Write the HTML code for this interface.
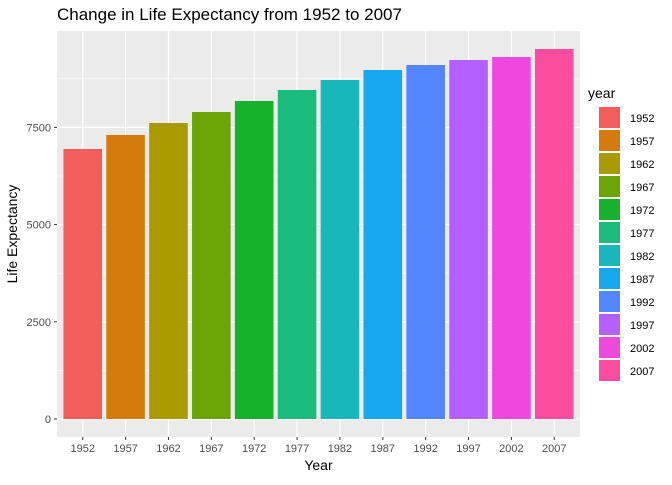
<!DOCTYPE html>
<html><head><meta charset="utf-8"><style>
body{margin:0;background:#fff;font-family:"Liberation Sans",sans-serif}
</style></head><body>
<svg id="c" width="672" height="480" xmlns="http://www.w3.org/2000/svg" font-family="Liberation Sans, sans-serif"></svg>
<script>
const years=["1952","1957","1962","1967","1972","1977","1982","1987","1992","1997","2002","2007"];
const values=[6944,7305,7613,7896,8179,8462,8719,8976,9105,9234,9311,9517];
const colors=["#F35E5A","#D57A0C","#A89A00","#6AA405","#17B12E","#1BBA7D","#19B6BC","#16A7EE","#5385FF","#B55FFF","#EE48DF","#FC4C9F"];
const yTicks=[0,2500,5000,7500];
const NS="http://www.w3.org/2000/svg";
const svg=document.getElementById('c');
function mk(t,a,p){const e=document.createElementNS(NS,t);for(const k in a)e.setAttribute(k,a[k]);(p||svg).appendChild(e);return e;}
const L=57,R=580,T=31,B=437;
const y=v=>419-v*97.2/2500;
const unit=(R-L)/(years.length+0.2);
const x=i=>L+(0.6+i)*unit;
const bg=mk('rect',{x:L,y:T,width:R-L,height:B-T,fill:'#EBEBEB'});


for(let i=0;i<yTicks.length;i++){const v=yTicks[i]+1250;if(y(v)>T){const g=mk('line',{x1:L,x2:R,y1:y(v),y2:y(v),stroke:'#fff','stroke-width':0.6});}}
yTicks.forEach(v=>{const g=mk('line',{x1:L,x2:R,y1:y(v),y2:y(v),stroke:'#fff','stroke-width':1.2});


const tk=mk('line',{x1:L-3,x2:L,y1:y(v),y2:y(v),stroke:'#333','stroke-width':1});


const t=mk('text',{x:L-6,y:y(v)+4,'text-anchor':'end','font-size':11,fill:'#4D4D4D'});t.textContent=v;

});
years.forEach((yr,i)=>{const cx=x(i);
const g=mk('line',{x1:cx,x2:cx,y1:T,y2:B,stroke:'#fff','stroke-width':1.2});

});
years.forEach((yr,i)=>{const cx=x(i),w=unit*0.9;
const b=mk('rect',{x:cx-w/2,y:y(values[i]),width:w,height:y(0)-y(values[i]),fill:colors[i]});


const tk=mk('line',{x1:cx,x2:cx,y1:B,y2:B+3,stroke:'#333','stroke-width':1});


const t=mk('text',{x:cx,y:B+15,'text-anchor':'middle','font-size':11,fill:'#4D4D4D'});t.textContent=yr;


const k=mk('rect',{x:599,y:107+i*23,width:21,height:21,fill:colors[i]});


const lt=mk('text',{x:630,y:122+i*23,'font-size':11,fill:'#000'});lt.textContent=yr;

});
const title=mk('text',{x:57,y:20,'font-size':17,fill:'#000'});title.textContent='Change in Life Expectancy from 1952 to 2007';


const xt=mk('text',{x:(L+R)/2,y:470,'text-anchor':'middle','font-size':14,fill:'#000'});xt.textContent='Year';


const yt=mk('text',{x:0,y:0,'text-anchor':'middle','font-size':14,fill:'#000',transform:'translate(17,'+((T+B)/2)+') rotate(-90)'});yt.textContent='Life Expectancy';


const lg=mk('text',{x:588,y:98,'font-size':14,fill:'#000'});lg.textContent='year';


</script>
</body></html>
